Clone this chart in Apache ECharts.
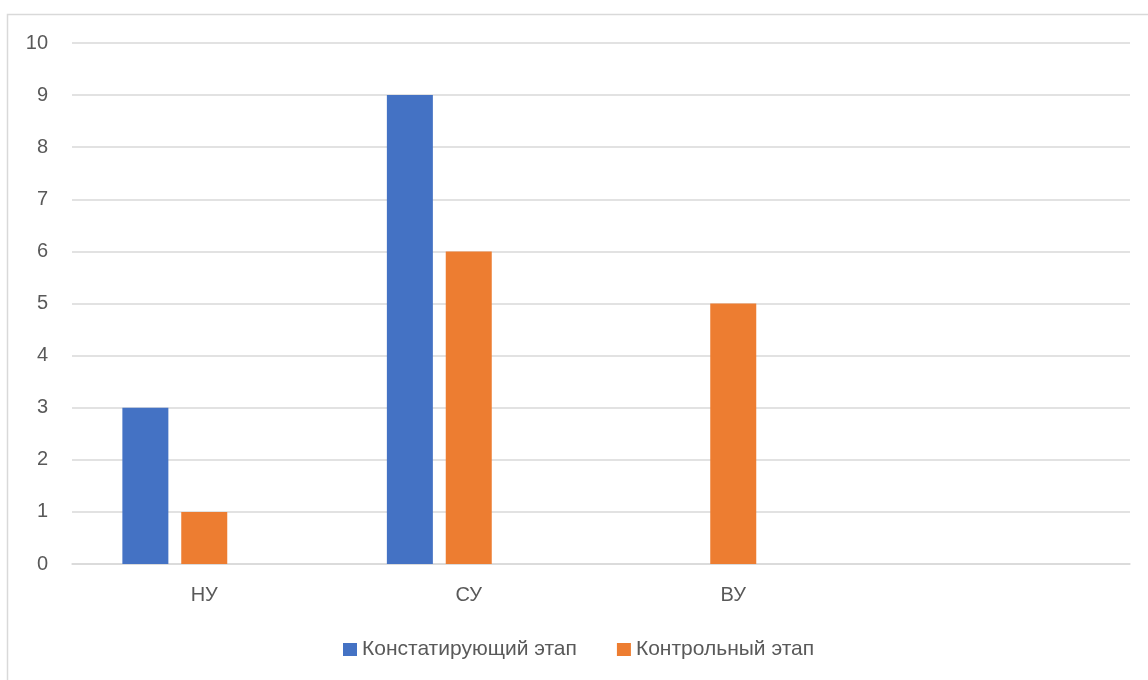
<!DOCTYPE html>
<html><head><meta charset="utf-8">
<script src="https://cdn.jsdelivr.net/npm/echarts@6/dist/echarts.min.js"></script>
<style>html,body{margin:0;padding:0;background:#fff}#c{width:1148px;height:680px}</style>
</head><body><div id="c"></div>
<script>
const categories = ['НУ', 'СУ', 'ВУ', ''];
const seriesNames = ['Констатирующий этап', 'Контрольный этап', ''];
const konstatValues = [3, 9, 0, null];
const kontrolValues = [1, 6, 5, null];
const emptyValues = [null, null, null, null];
const yTicks = { min: 0, max: 10, interval: 1 };

const chart = echarts.init(document.getElementById('c'), null, { renderer: 'canvas' });
const font = '"Liberation Sans", "Noto Sans", sans-serif';
chart.setOption({
  animation: false,
  backgroundColor: '#ffffff',
  graphic: [{
    type: 'rect', silent: true, z: -1,
    shape: { x: 7.5, y: 14.5, width: 1200, height: 800 },
    style: { fill: 'none', stroke: '#D9D9D9', lineWidth: 1.5 }
  }],
  grid: { left: 72, right: 18, top: 43, bottom: 116, containLabel: false },
  legend: {
    data: [seriesNames[0], seriesNames[1]],
    left: 338, top: 634,
    itemWidth: 14, itemHeight: 13, itemGap: 40,
    icon: 'rect',
    textStyle: { color: '#595959', fontSize: 21, fontFamily: font, padding: [0, 0, 0, 0] }
  },
  xAxis: {
    type: 'category', data: categories,
    axisLine: { show: true, lineStyle: { color: '#D9D9D9', width: 1.5 } },
    axisTick: { show: false },
    axisLabel: { color: '#595959', fontSize: 20, fontFamily: font, margin: 21 }
  },
  yAxis: {
    type: 'value', min: yTicks.min, max: yTicks.max, interval: yTicks.interval,
    axisLine: { show: false }, axisTick: { show: false },
    splitLine: { lineStyle: { color: '#D9D9D9', width: 1.5 } },
    axisLabel: { color: '#595959', fontSize: 20, fontFamily: font, margin: 24 }
  },
  series: [
    { name: seriesNames[0], type: 'bar', data: konstatValues, barWidth: 46, barGap: '28%', itemStyle: { color: '#4472C4' } },
    { name: seriesNames[1], type: 'bar', data: kontrolValues, barWidth: 46, barGap: '28%', itemStyle: { color: '#ED7D31' } },
    { name: seriesNames[2], type: 'bar', data: emptyValues, barWidth: 46, barGap: '28%', itemStyle: { color: '#A5A5A5' } }
  ]
});
</script></body></html>
